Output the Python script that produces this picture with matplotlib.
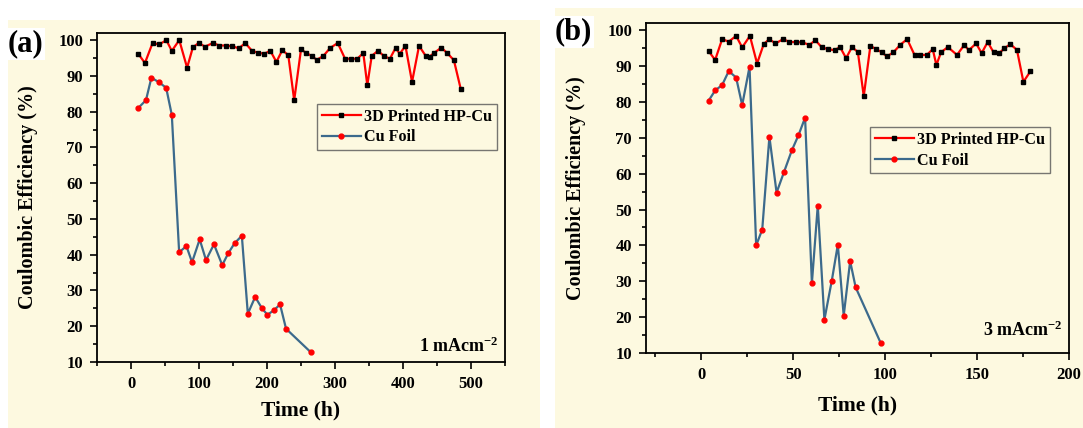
import numpy as np
import matplotlib
matplotlib.use('Agg')
import matplotlib.pyplot as plt
from matplotlib.patches import Rectangle
from matplotlib.ticker import MultipleLocator

# panel (a): 1 mA cm-2
hp_time_a = [11, 20.5, 31.7, 41.5, 52, 60, 71, 82.5, 91, 99.6, 108.8, 120.5, 129.8, 139, 149,
             158.6, 168, 178, 187, 195.7, 205, 213.8, 222.5, 231.3, 240, 250, 258, 265.5, 273.3,
             283, 292.8, 304, 314.8, 324, 332.8, 341.6, 347.5, 354, 363, 371.9, 380.7, 389,
             395.3, 403.6, 413.3, 423.6, 433.4, 439.2, 445.5, 456.3, 465, 474.8, 485]
hp_ce_a = [96.1, 93.6, 99.2, 98.8, 100, 97, 100, 92.3, 98, 99.2, 98.2, 99.2, 98.5, 98.5, 98.3,
           97.7, 99.2, 97, 96.5, 96.2, 97, 93.9, 97.2, 95.8, 83.2, 97.4, 96.4, 95.6, 94.5,
           95.6, 97.8, 99.2, 94.8, 94.8, 94.8, 96.4, 87.4, 95.6, 97, 95.6, 94.8, 97.8,
           96.2, 98.4, 88.3, 98.4, 95.6, 95.4, 96.4, 97.9, 96.4, 94.4, 86.3]
cu_time_a = [11, 22, 30, 40.5, 51.7, 60, 70.8, 81.5, 89.8, 101, 110.3, 122, 134.2, 143, 152.3,
             163, 171.8, 182.6, 192.3, 200.6, 210.4, 219.2, 228, 264]
cu_ce_a = [81.1, 83.2, 89.5, 88.3, 86.7, 79.1, 40.7, 42.4, 37.9, 44.3, 38.5, 42.9, 37.1, 40.4,
           43.2, 45.3, 23.5, 28.2, 25.1, 23.2, 24.5, 26.1, 19.3, 12.8]

# panel (b): 3 mA cm-2
hp_time_b = [4, 7.6, 11.4, 15, 19, 22.3, 26.5, 30.4, 34, 37, 40.4, 44.6, 48, 51.3, 55, 58.9,
             62.1, 65.6, 69.2, 72.5, 75.5, 78.8, 82, 85.2, 88.4, 92, 95.3, 98.2, 101, 104.5,
             108.2, 112, 116, 119.2, 122.7, 125.9, 127.9, 130.4, 134.1, 139.1, 143.1, 145.5,
             149.5, 152.5, 155.8, 159, 162.1, 164.8, 168.1, 171.7, 175.2, 179]
hp_ce_b = [94.2, 91.7, 97.5, 96.8, 98.4, 95.2, 98.4, 90.7, 96.1, 97.5, 96.3, 97.5, 96.7, 96.7,
           96.6, 95.9, 97.2, 95.2, 94.7, 94.4, 95.3, 92.2, 95.3, 93.9, 81.6, 95.6, 94.7, 93.8,
           92.7, 93.8, 95.9, 97.5, 93.1, 93.1, 93.1, 94.7, 90.3, 93.8, 95.3, 93.1, 95.9, 94.4,
           96.3, 93.6, 96.7, 93.8, 93.6, 94.9, 96.1, 94.5, 85.6, 88.5]
cu_time_b = [4, 7.6, 11.4, 15, 19, 22.3, 26.3, 29.9, 33.2, 37.1, 41, 45, 49.3, 52.9, 56.5,
             60.2, 63.4, 67, 71, 74.3, 77.5, 81, 84, 97.7]
cu_ce_b = [80.3, 83.2, 84.7, 88.6, 86.8, 79.1, 89.8, 40, 44.4, 70.3, 54.7, 60.4, 66.5, 70.7,
           75.6, 29.5, 51.1, 19.3, 30.1, 40.2, 20.4, 35.6, 28.3, 12.7]

bg = '#fdf9e0'
serif = ['Liberation Serif', 'DejaVu Serif']
plt.rcParams['font.family'] = serif
plt.rcParams['font.weight'] = 'bold'
plt.rcParams['mathtext.fontset'] = 'custom'
plt.rcParams['mathtext.bf'] = 'Liberation Serif:bold'
plt.rcParams['mathtext.rm'] = 'Liberation Serif:bold'
plt.rcParams['mathtext.default'] = 'bf'

fig = plt.figure(figsize=(10.83, 4.28), dpi=100)
fig.patch.set_facecolor('white')
# cream backgrounds of the two pasted panels
fig.patches.append(Rectangle((8/1083, 0), 532/1083, 408/428, transform=fig.transFigure,
                             facecolor=bg, edgecolor='none', zorder=-10))
fig.patches.append(Rectangle((555/1083, 0), 528/1083, 420/428, transform=fig.transFigure,
                             facecolor=bg, edgecolor='none', zorder=-10))

ax1 = fig.add_axes([97/1083, 66/428, 408/1083, 329/428])
ax2 = fig.add_axes([646/1083, 75/428, 423/1083, 330/428])

panels = [
    (ax1, hp_time_a, hp_ce_a, cu_time_a, cu_ce_a, (-50, 550), 100, 50, '1 mAcm$^{-2}$',
     (0.54, 0.785), -0.145, -0.118, 0.018),
    (ax2, hp_time_b, hp_ce_b, cu_time_b, cu_ce_b, (-30, 200), 50, 25, '3 mAcm$^{-2}$',
     (0.53, 0.685), -0.142, -0.13, 0.04),
]

for ax, ht, hc, ct, cc, xl, maj, mnr, note, legpos, ylx, xly, ny in panels:
    ax.set_facecolor(bg)
    ax.plot(ht, hc, color='#ff0000', lw=1.6, marker='s', ms=3.5, mfc='black', mec='black',
            label='3D Printed HP-Cu')
    ax.plot(ct, cc, color='#3c6a8c', lw=1.6, marker='o', ms=3.5, mfc='#ff0000', mec='#ff0000',
            label='Cu Foil')
    ax.set_xlim(*xl)
    ax.set_ylim(10, 102)
    ax.xaxis.set_major_locator(MultipleLocator(maj))
    ax.xaxis.set_minor_locator(MultipleLocator(mnr))
    ax.yaxis.set_major_locator(MultipleLocator(10))
    ax.yaxis.set_minor_locator(MultipleLocator(5))
    ax.tick_params(which='major', length=5, width=1.2, labelsize=12, pad=5)
    ax.tick_params(which='minor', length=3, width=1.2)
    for lab in ax.get_xticklabels() + ax.get_yticklabels():
        lab.set_fontweight('bold')
    for s in ax.spines.values():
        s.set_linewidth(1.3)
    ax.set_xlabel('Time (h)', fontsize=15.5, fontweight='bold')
    ax.set_ylabel('Coulombic Efficiency (%)', fontsize=14.5, fontweight='bold')
    ax.yaxis.set_label_coords(ylx, 0.5)
    ax.xaxis.set_label_coords(0.5, xly)
    leg = ax.legend(loc='upper left', bbox_to_anchor=legpos, numpoints=1, fancybox=False,
                    prop={'family': serif, 'weight': 'bold', 'size': 11.6},
                    handlelength=2.4, handletextpad=0.2, borderpad=0.3, labelspacing=0.3,
                    borderaxespad=0)
    leg.get_frame().set_edgecolor('#555555')
    leg.get_frame().set_facecolor(bg)
    leg.get_frame().set_linewidth(1.0)
    ax.text(0.985, ny, note, transform=ax.transAxes, ha='right', va='bottom',
            fontsize=13, fontweight='bold')

fig.text(8/1083, 1 - 44/428, '(a)', fontsize=22, fontweight='bold', va='center', ha='left',
         bbox=dict(facecolor='white', edgecolor='none', pad=1))
fig.text(555/1083, 1 - 32/428, '(b)', fontsize=22, fontweight='bold', va='center', ha='left',
         bbox=dict(facecolor='white', edgecolor='none', pad=1))

fig.savefig('out.png', dpi=100, facecolor=fig.get_facecolor())
